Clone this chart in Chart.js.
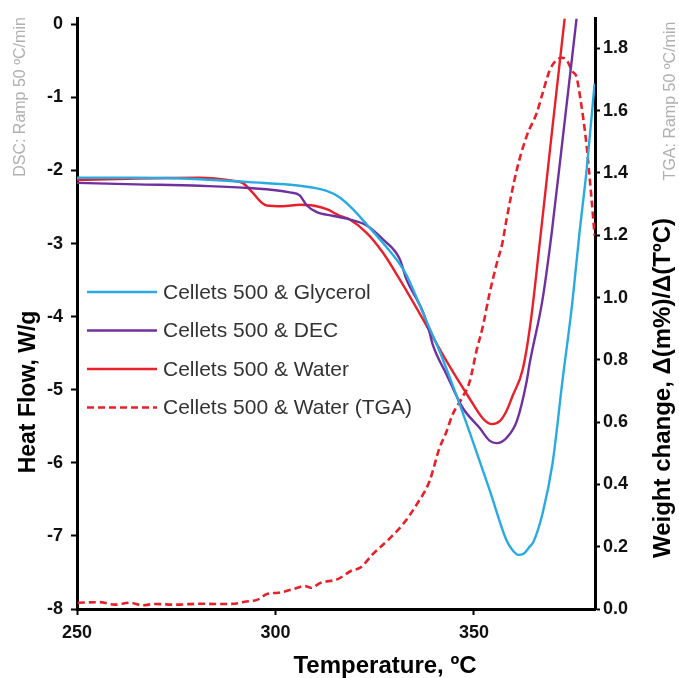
<!DOCTYPE html>
<html>
<head>
<meta charset="utf-8">
<script src="https://cdn.jsdelivr.net/npm/chart.js@4.4.1/dist/chart.umd.min.js"></script>
<style>
  html, body { margin: 0; padding: 0; background: #fff; }
  canvas { display: block; }
</style>
</head>
<body>
<canvas id="chart" width="679" height="678"></canvas>
<script>
// temperatures in ºC, heat flow in W/g (left axis), weight change in %/ºC (right axis)
var glycerolT  = [250, 265, 281, 293.5, 306.1, 312.9, 316.2, 319.5, 323.0, 328.0, 331.3, 333.0, 338.1, 341.4, 345.2, 350.0, 354.0, 358.2, 359.8, 361.2, 362.6, 364.0, 365.0, 367.3, 369.8, 372.3, 374.8, 376.6, 378.4, 380.4];
var glycerolHF = [-2.10, -2.10, -2.12, -2.16, -2.21, -2.28, -2.37, -2.53, -2.74, -3.05, -3.28, -3.43, -4.07, -4.48, -5.02, -5.75, -6.38, -7.06, -7.20, -7.26, -7.24, -7.15, -7.08, -6.69, -6.01, -4.88, -3.80, -2.85, -1.99, -0.81];

var decT  = [250, 265, 280.9, 293.5, 303.6, 306.1, 307.9, 310.4, 314.4, 318.7, 322.9, 327.0, 331.3, 333.0, 337.1, 338.8, 339.6, 343.1, 347.2, 351.4, 354.0, 355.7, 358.2, 360.8, 363.3, 364.0, 367.3, 369.6, 372.6, 375.9];
var decHF = [-2.17, -2.19, -2.21, -2.24, -2.30, -2.34, -2.48, -2.57, -2.62, -2.67, -2.75, -2.94, -3.21, -3.49, -3.93, -4.21, -4.38, -4.79, -5.25, -5.52, -5.70, -5.73, -5.66, -5.43, -4.88, -4.65, -3.76, -2.85, -1.45, 0.10];

var waterT  = [250, 265, 280.9, 289.2, 291.7, 294.2, 296.5, 297.8, 301.8, 306.1, 309.4, 312.9, 316.2, 318.7, 322.9, 327.0, 331.3, 337.1, 343.1, 348.9, 352.2, 354.4, 356.5, 358.2, 359.7, 362.3, 364.3, 366.6, 369.6, 372.9];
var waterHF = [-2.13, -2.11, -2.10, -2.14, -2.17, -2.30, -2.44, -2.48, -2.49, -2.47, -2.48, -2.53, -2.62, -2.67, -2.85, -3.12, -3.49, -4.03, -4.61, -5.12, -5.39, -5.47, -5.43, -5.29, -5.09, -4.72, -4.07, -2.98, -1.50, 0.10];

var tgaT = [250.2, 255.7, 259.5, 263.3, 266.5, 269.6, 275, 280.9, 285, 289.7, 292.2, 295.5, 298.0, 300.6, 304.8, 307.4, 308.9, 311.4, 315.7, 319.0, 321.5, 324.5, 328.8, 332.1, 335.6, 338.8, 341.3, 343.1, 344.6, 347.2, 348.9, 350.7, 352.2, 353.9, 355.7, 357.2, 358.2, 360.8, 363.3, 365.8, 367.3, 369.1, 370.6, 372.1, 373.3, 374.8, 375.8, 376.8, 378.3, 379.6, 380.4];
var tgaW = [0.020, 0.022, 0.014, 0.020, 0.012, 0.016, 0.014, 0.017, 0.016, 0.017, 0.023, 0.030, 0.049, 0.052, 0.065, 0.074, 0.068, 0.084, 0.096, 0.122, 0.134, 0.176, 0.227, 0.272, 0.336, 0.410, 0.516, 0.570, 0.624, 0.682, 0.729, 0.832, 0.905, 1.011, 1.107, 1.177, 1.250, 1.410, 1.519, 1.592, 1.656, 1.730, 1.760, 1.770, 1.764, 1.726, 1.710, 1.640, 1.497, 1.321, 1.199];

var xTicks = [250, 300, 350];

var FONT = '"Liberation Sans", Arial, sans-serif';

function pts(xs, ys) {
  return xs.map(function (x, i) { return { x: x, y: ys[i] }; });
}

function line(label, xs, ys, color, axis, dash) {
  return {
    label: label,
    data: pts(xs, ys),
    yAxisID: axis,
    borderColor: color,
    borderWidth: dash ? 2.6 : 2.4,
    borderDash: dash || [],
    pointRadius: 0,
    showLine: true,
    fill: false,
    cubicInterpolationMode: 'monotone'
  };
}

// legend sits inside the plot, drawn by hand
var insideLegend = {
  id: 'insideLegend',
  afterDatasetsDraw: function (chart) {
    var ctx = chart.ctx;
    ctx.save();
    chart.data.datasets.forEach(function (ds, i) {
      var y = 292 + i * 38.5;
      ctx.strokeStyle = ds.borderColor;
      ctx.lineWidth = 2.6;
      ctx.setLineDash(ds.borderDash || []);
      ctx.beginPath();
      ctx.moveTo(87, y);
      ctx.lineTo(157, y);
      ctx.stroke();
      ctx.setLineDash([]);
      ctx.fillStyle = '#333';
      ctx.font = '21px ' + FONT;
      ctx.textBaseline = 'middle';
      ctx.textAlign = 'left';
      ctx.fillText(ds.label, 163, y + 1);
    });
    ctx.restore();
  }
};

// axis titles and the grey ramp notes
var titles = {
  id: 'titles',
  afterDraw: function (chart) {
    var ctx = chart.ctx;
    function vtext(txt, x, y, font, color) {
      ctx.save();
      ctx.translate(x, y);
      ctx.rotate(-Math.PI / 2);
      ctx.font = font;
      ctx.fillStyle = color;
      ctx.textAlign = 'center';
      ctx.textBaseline = 'alphabetic';
      ctx.fillText(txt, 0, 0);
      ctx.restore();
    }
    vtext('Heat Flow, W/g', 35, 392, 'bold 23px ' + FONT, '#000');
    vtext('Weight change, \u0394(m%)/\u0394(T\u00baC)', 670, 388, 'bold 24px ' + FONT, '#000');
    vtext('DSC: Ramp 50 \u00baC/min', 25, 97, '16px ' + FONT, '#b0b0b0');
    vtext('TGA: Ramp 50 \u00baC/min', 675, 101, '16px ' + FONT, '#b0b0b0');
    ctx.save();
    ctx.font = 'bold 24px ' + FONT;
    ctx.fillStyle = '#000';
    ctx.textAlign = 'center';
    ctx.textBaseline = 'alphabetic';
    ctx.fillText('Temperature, \u00baC', 385, 673);
    ctx.restore();
  }
};

var tickFont = { family: FONT, size: 18, weight: 'bold' };

new Chart(document.getElementById('chart'), {
  type: 'scatter',
  data: {
    datasets: [
      line('Cellets 500 & Glycerol', glycerolT, glycerolHF, '#29abe2', 'yL'),
      line('Cellets 500 & DEC', decT, decHF, '#7030a0', 'yL'),
      line('Cellets 500 & Water', waterT, waterHF, '#e8202a', 'yL'),
      line('Cellets 500 & Water (TGA)', tgaT, tgaW, '#e8202a', 'yR', [7, 4])
    ]
  },
  options: {
    responsive: false,
    animation: false,
    devicePixelRatio: 1,
    layout: { padding: { top: 15, left: 0, right: 0, bottom: 0 } },
    plugins: { legend: { display: false }, tooltip: { enabled: false } },
    scales: {
      x: {
        type: 'linear',
        min: 250,
        max: 380.5,
        afterBuildTicks: function (s) { s.ticks = xTicks.map(function (v) { return { value: v }; }); },
        ticks: { stepSize: 50, includeBounds: false, autoSkip: false, maxRotation: 0, color: '#111', font: tickFont, padding: 7 },
        grid: { drawOnChartArea: false, drawTicks: true, tickLength: 6, tickColor: '#000', tickWidth: 2 },
        border: { color: '#000', width: 3 },
        afterFit: function (s) { s.height = 69; }
      },
      yL: {
        type: 'linear',
        position: 'left',
        min: -8,
        max: 0.075,
        ticks: { stepSize: 1, includeBounds: false, autoSkip: false, color: '#111', font: tickFont, padding: 8 },
        grid: { drawOnChartArea: false, drawTicks: true, tickLength: 6, tickColor: '#000', tickWidth: 2 },
        border: { color: '#000', width: 3 },
        afterFit: function (s) { s.width = 77; }
      },
      yR: {
        type: 'linear',
        position: 'right',
        min: 0,
        max: 1.895,
        ticks: {
          stepSize: 0.2, includeBounds: false, autoSkip: false, color: '#111', font: tickFont, padding: 3,
          callback: function (v) { return Number(v).toFixed(1); }
        },
        grid: { drawOnChartArea: false, drawTicks: true, tickLength: 5, tickColor: '#000', tickWidth: 2 },
        border: { color: '#000', width: 3 },
        afterFit: function (s) { s.width = 84; }
      }
    }
  },
  plugins: [insideLegend, titles]
});
</script>
</body>
</html>
